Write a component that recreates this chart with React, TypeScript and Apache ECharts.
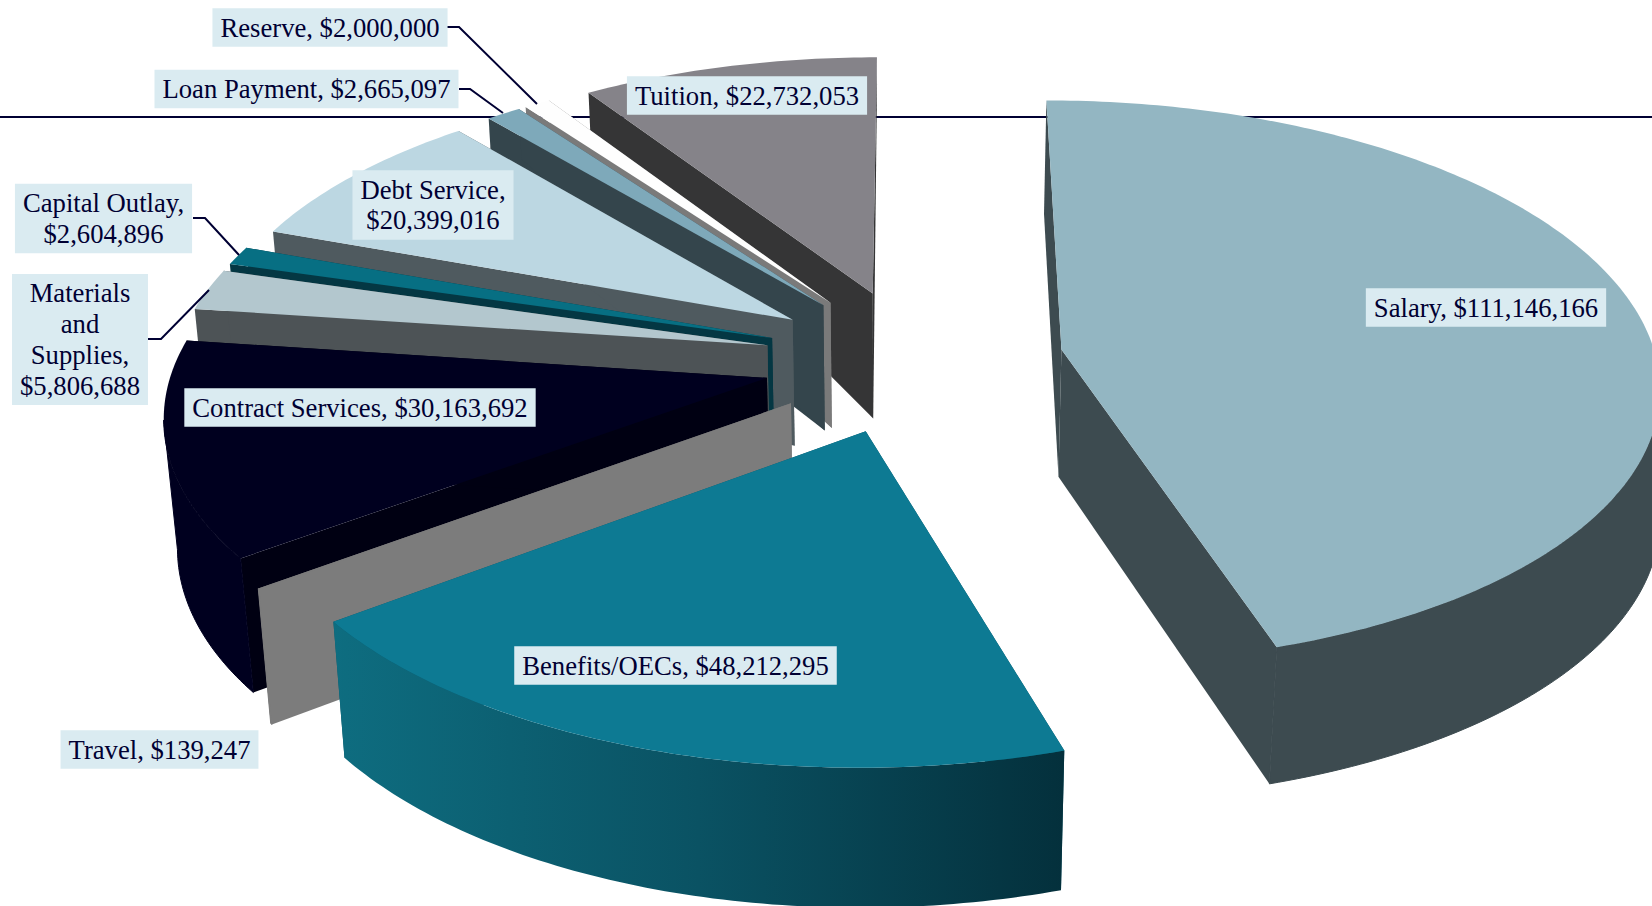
import React, { useEffect, useRef } from "react";
import * as echarts from "echarts";

// Budget categories, clockwise from twelve o'clock
const categories = ["Salary", "Benefits/OECs", "Travel", "Contract Services", "Materials\nand\nSupplies", "Capital Outlay", "Debt Service", "Loan Payment", "Reserve", "Tuition"];
const amounts = [111146166, 48212295, 139247, 30163692, 5806688, 2604896, 20399016, 2665097, 2000000, 22732053];
const wrappedLabel = [false, false, false, false, true, true, true, false, false, false];

const topColors = ["#93B6C2", "#0D7A93", "#7C7C7C", "#00001F", "#B3C7CE", "#076F83", "#BCD7E2", "#7EA9BA", "#FEFEFE", "#858389"];
const wallColors = ["#3D4B50", "#0A5566", "#7C7C7C", "#000012", "#4D5356", "#043743", "#4F5A5F", "#34454C", "#7A7A7A", "#353536"];
const rimColors = ["#3D4B50", "#0A5566", "#7C7C7C", "#00001F", "#4D5356", "#043743", "#4F5A5F", "#34454C", "#7A7A7A", "#353536"];
const wallTaper = [0.15, 1, 1, 1, 1, 1, 1, 1, 1, 1];
const explodeBy = [0.25, 0.26, 0.255, 0.255, 0.255, 0.255, 0.255, 0.255, 0.255, 0.255];
const rimScale = [1, 1, 1, 0.996, 0.996, 0.996, 0.99, 0.99, 0.99, 0.99];

// Centre of each label box, in page pixels
const labelCenters = [[1486, 307.5], [675.5, 665.5], [159.5, 749.5], [360, 407.5], [80, 339.5], [103.5, 218.5], [433, 205], [306.5, 89], [330, 27.5], [747, 95.5]];

// Leader lines for the slices too thin to hold their label
const leaders = [
  [[447, 27], [459, 27], [537, 104]],
  [[459, 89], [470, 89], [503, 113]],
  [[193, 218], [205, 218], [239, 255]],
  [[148, 339], [161, 339], [209, 290]],
];

// Projection of the tilted pie disc
const CX = 915, CY = 360, RX = 595, RY = 280, PERSP = 0.115;
const LABEL_BG = "#DAEBF1", INK = "#000033";

const total = amounts.reduce((a, b) => a + b, 0);
const startAngles: number[] = [];
amounts.reduce((acc, v, i) => {
  startAngles[i] = acc;
  return acc + (v / total) * Math.PI * 2;
}, 0);

const wallHeight = (y: number, taper: number) =>
  y > 0.25 ? 125 - taper * 100 * (y - 0.25) : 125 + (0.25 - y) * 10;

// Walls lean slightly toward the middle of the pie, fading out at the far right edge
function wallLean(x: number, lift: number) {
  const k = 0.000144 * lift;
  if (x <= 1280) return (900 - x) * k;
  return (-380 * k * Math.max(0, 1650 - x)) / 370;
}

function project(px: number, py: number, lift: number): number[] {
  const w = 1 + PERSP * py;
  const sx = CX + (RX * px) / w;
  const sy = CY - (RY * py) / w;
  return [sx + wallLean(sx, lift), sy + lift];
}

function renderSlice(params: any, api: any) {
  const i = amounts.length - 1 - params.dataIndex;
  const a0 = startAngles[i];
  const a1 = a0 + (api.value(0) / total) * Math.PI * 2;
  const mid = (a0 + a1) / 2;
  const ox = explodeBy[i] * Math.sin(mid);
  const oy = explodeBy[i] * Math.cos(mid);
  const steps = Math.max(2, Math.ceil((a1 - a0) / 0.015));
  const rim: number[][] = [];
  for (let k = 0; k <= steps; k++) {
    const a = a0 + ((a1 - a0) * k) / steps;
    rim.push([ox + rimScale[i] * Math.sin(a), oy + rimScale[i] * Math.cos(a)]);
  }
  const taper = wallTaper[i];
  const up = (p: number[]) => project(p[0], p[1], 0);
  const down = (p: number[]) => project(p[0], p[1], wallHeight(p[1], taper));
  const apex = [ox, oy];
  const first = rim[0];
  const last = rim[rim.length - 1];
  const poly = (points: number[][], style: any) => ({ type: "polygon", shape: { points }, style, silent: true });
  const children: any[] = [
    poly([up(apex), up(first), down(first), down(apex)], { fill: wallColors[i] }),
    poly([up(apex), up(last), down(last), down(apex)], { fill: wallColors[i] }),
  ];
  // Only the stretch of rim running right to left along the screen faces the viewer
  const xs = rim.map((p) => up(p)[0]);
  const from = xs.indexOf(Math.max(...xs));
  const tail = xs.slice(from);
  const to = from + tail.indexOf(Math.min(...tail));
  if (from < to) {
    const front = rim.slice(from, to + 1);
    const style =
      i === 1
        ? {
            fill: new echarts.graphic.LinearGradient(0, 0, 1, 0, [
              { offset: 0, color: "#0E6D80" },
              { offset: 0.5, color: "#0A5263" },
              { offset: 1, color: "#04303C" },
            ]),
          }
        : { fill: rimColors[i], stroke: rimColors[i], lineWidth: 1 };
    children.push(poly([...front.map(up), ...front.slice().reverse().map(down)], style));
  }
  children.push(poly([up(apex), ...rim.map(up)], { fill: topColors[i] }));
  return { type: "group", children };
}

function labelText(i: number) {
  const money = "$" + amounts[i].toLocaleString("en-US");
  return categories[i] + (wrappedLabel[i] ? ",\n" : ", ") + money;
}

export default function App() {
  const ref = useRef<HTMLDivElement>(null);
  useEffect(() => {
    document.body.style.margin = "0";
    document.body.style.background = "#fff";
    const chart = echarts.init(ref.current!, null, { renderer: "svg" });
    chart.setOption({
      animation: false,
      backgroundColor: "#ffffff",
      graphic: [
        { type: "line", z: 0, silent: true, shape: { x1: 0, y1: 117, x2: 1652, y2: 117 }, style: { stroke: INK, lineWidth: 2 } },
        ...leaders.map((points) => ({
          type: "polyline",
          z: 5,
          silent: true,
          shape: { points },
          style: { stroke: INK, lineWidth: 2, fill: "none" },
        })),
        ...labelCenters.map((c, i) => ({
          type: "text",
          z: 10,
          silent: true,
          x: c[0],
          y: c[1],
          style: {
            text: labelText(i),
            align: "center",
            verticalAlign: "middle",
            fontFamily: "Liberation Serif",
            fontSize: 26.67,
            lineHeight: 30.7,
            fill: INK,
            backgroundColor: LABEL_BG,
            padding: [4, 8, 4, 8],
          },
        })),
      ],
      series: [
        {
          type: "custom",
          coordinateSystem: "none",
          z: 2,
          silent: true,
          renderItem: renderSlice,
          data: amounts.slice().reverse().map((v) => [v]),
        },
      ],
    });
    return () => chart.dispose();
  }, []);
  return <div ref={ref} style={{ width: 1652, height: 906, overflow: "hidden" }} />;
}
